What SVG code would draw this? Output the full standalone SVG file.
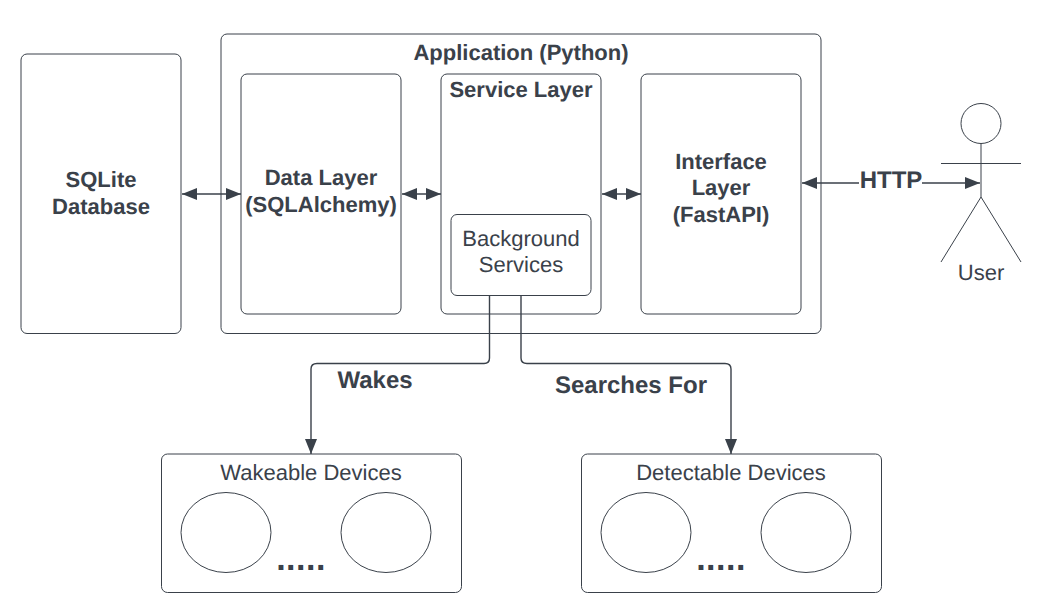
<svg xmlns="http://www.w3.org/2000/svg" width="1051" height="615" viewBox="0 0 1051 615">
<style>
text{font-family:"Liberation Sans",Arial,sans-serif;fill:#3a414a;text-anchor:middle;text-rendering:geometricPrecision}
.r{font-size:22px}
.b{font-size:22px;font-weight:bold}
.l{font-size:24px;font-weight:bold}
.d{font-size:34px;font-weight:bold;letter-spacing:.5px}
.box{fill:#fff;stroke:#3a414a;stroke-width:1}
.c{fill:none;stroke:#3a414a;stroke-width:1.400}
.e{fill:#fff;stroke:#3a414a;stroke-width:1}
</style>
<defs>
<marker id="a" markerUnits="userSpaceOnUse" markerWidth="16" markerHeight="12" refX="15" refY="6" orient="auto-start-reverse"><path d="M0 0L15 6L0 12z" fill="#3a414a"/></marker>
</defs>
<rect width="1051" height="615" fill="#fff"/>
<g id="sqlite"><rect class="box" x="21" y="54" width="160" height="279.500" rx="6"/><text class="b" x="101" y="187">SQLite</text><text class="b" x="101" y="214">Database</text></g>
<g id="application"><rect class="box" x="221" y="34" width="600" height="299.500" rx="6"/><text class="b" x="521" y="60">Application (Python)</text></g>
<g id="data-layer"><rect class="box" x="241" y="74" width="160" height="240" rx="6"/><text class="b" x="321" y="185">Data Layer</text><text class="b" x="321" y="212">(SQLAlchemy)</text></g>
<g id="service-layer"><rect class="box" x="441" y="74" width="160" height="240" rx="6"/><text class="b" x="521" y="97">Service Layer</text></g>
<g id="background-services"><rect class="box" x="451" y="214.500" width="140" height="81" rx="6"/><text class="r" x="521" y="246">Background</text><text class="r" x="521" y="272">Services</text></g>
<g id="interface-layer"><rect class="box" x="641" y="74" width="160" height="240" rx="6"/><text class="b" x="721" y="169">Interface</text><text class="b" x="721" y="195">Layer</text><text class="b" x="721" y="222">(FastAPI)</text></g>
<g id="user"><circle class="e" cx="981" cy="123.500" r="20"/><path class="e" d="M981 143.500V197M941 163.500H1021M981 197L941 262M981 197L1021 262"/><text class="r" x="981" y="280">User</text></g>
<g id="wakeable"><rect class="box" x="161.500" y="454" width="300" height="138.500" rx="6"/><text class="r" x="311" y="480">Wakeable Devices</text><ellipse class="e" cx="226" cy="532.500" rx="45" ry="40"/><ellipse class="e" cx="386" cy="532.500" rx="45" ry="40"/><text class="d" x="301" y="569.500">.....</text></g>
<g id="detectable"><rect class="box" x="581.500" y="454" width="300" height="138.500" rx="6"/><text class="r" x="731" y="480">Detectable Devices</text><ellipse class="e" cx="646" cy="532.500" rx="45" ry="40"/><ellipse class="e" cx="806" cy="532.500" rx="45" ry="40"/><text class="d" x="721" y="569.500">.....</text></g>
<g id="connectors">
<path class="c" marker-start="url(#a)" marker-end="url(#a)" d="M182 194H241"/>
<path class="c" marker-start="url(#a)" marker-end="url(#a)" d="M402 194H441"/>
<path class="c" marker-start="url(#a)" marker-end="url(#a)" d="M602 194H641"/>
<path class="c" marker-start="url(#a)" d="M802 183H859"/>
<path class="c" marker-end="url(#a)" d="M922 183H980"/>
<path class="c" marker-end="url(#a)" d="M489.500 296V358Q489.500 363.500 484 363.500H317Q311 363.500 311 369V454"/>
<path class="c" marker-end="url(#a)" d="M521 296V358Q521 363.500 527 363.500H725Q731 363.500 731 369V454"/>
</g>
<text class="l" x="891" y="188">HTTP</text>
<text class="l" x="375" y="388">Wakes</text>
<text class="l" x="631" y="393">Searches For</text>
</svg>
